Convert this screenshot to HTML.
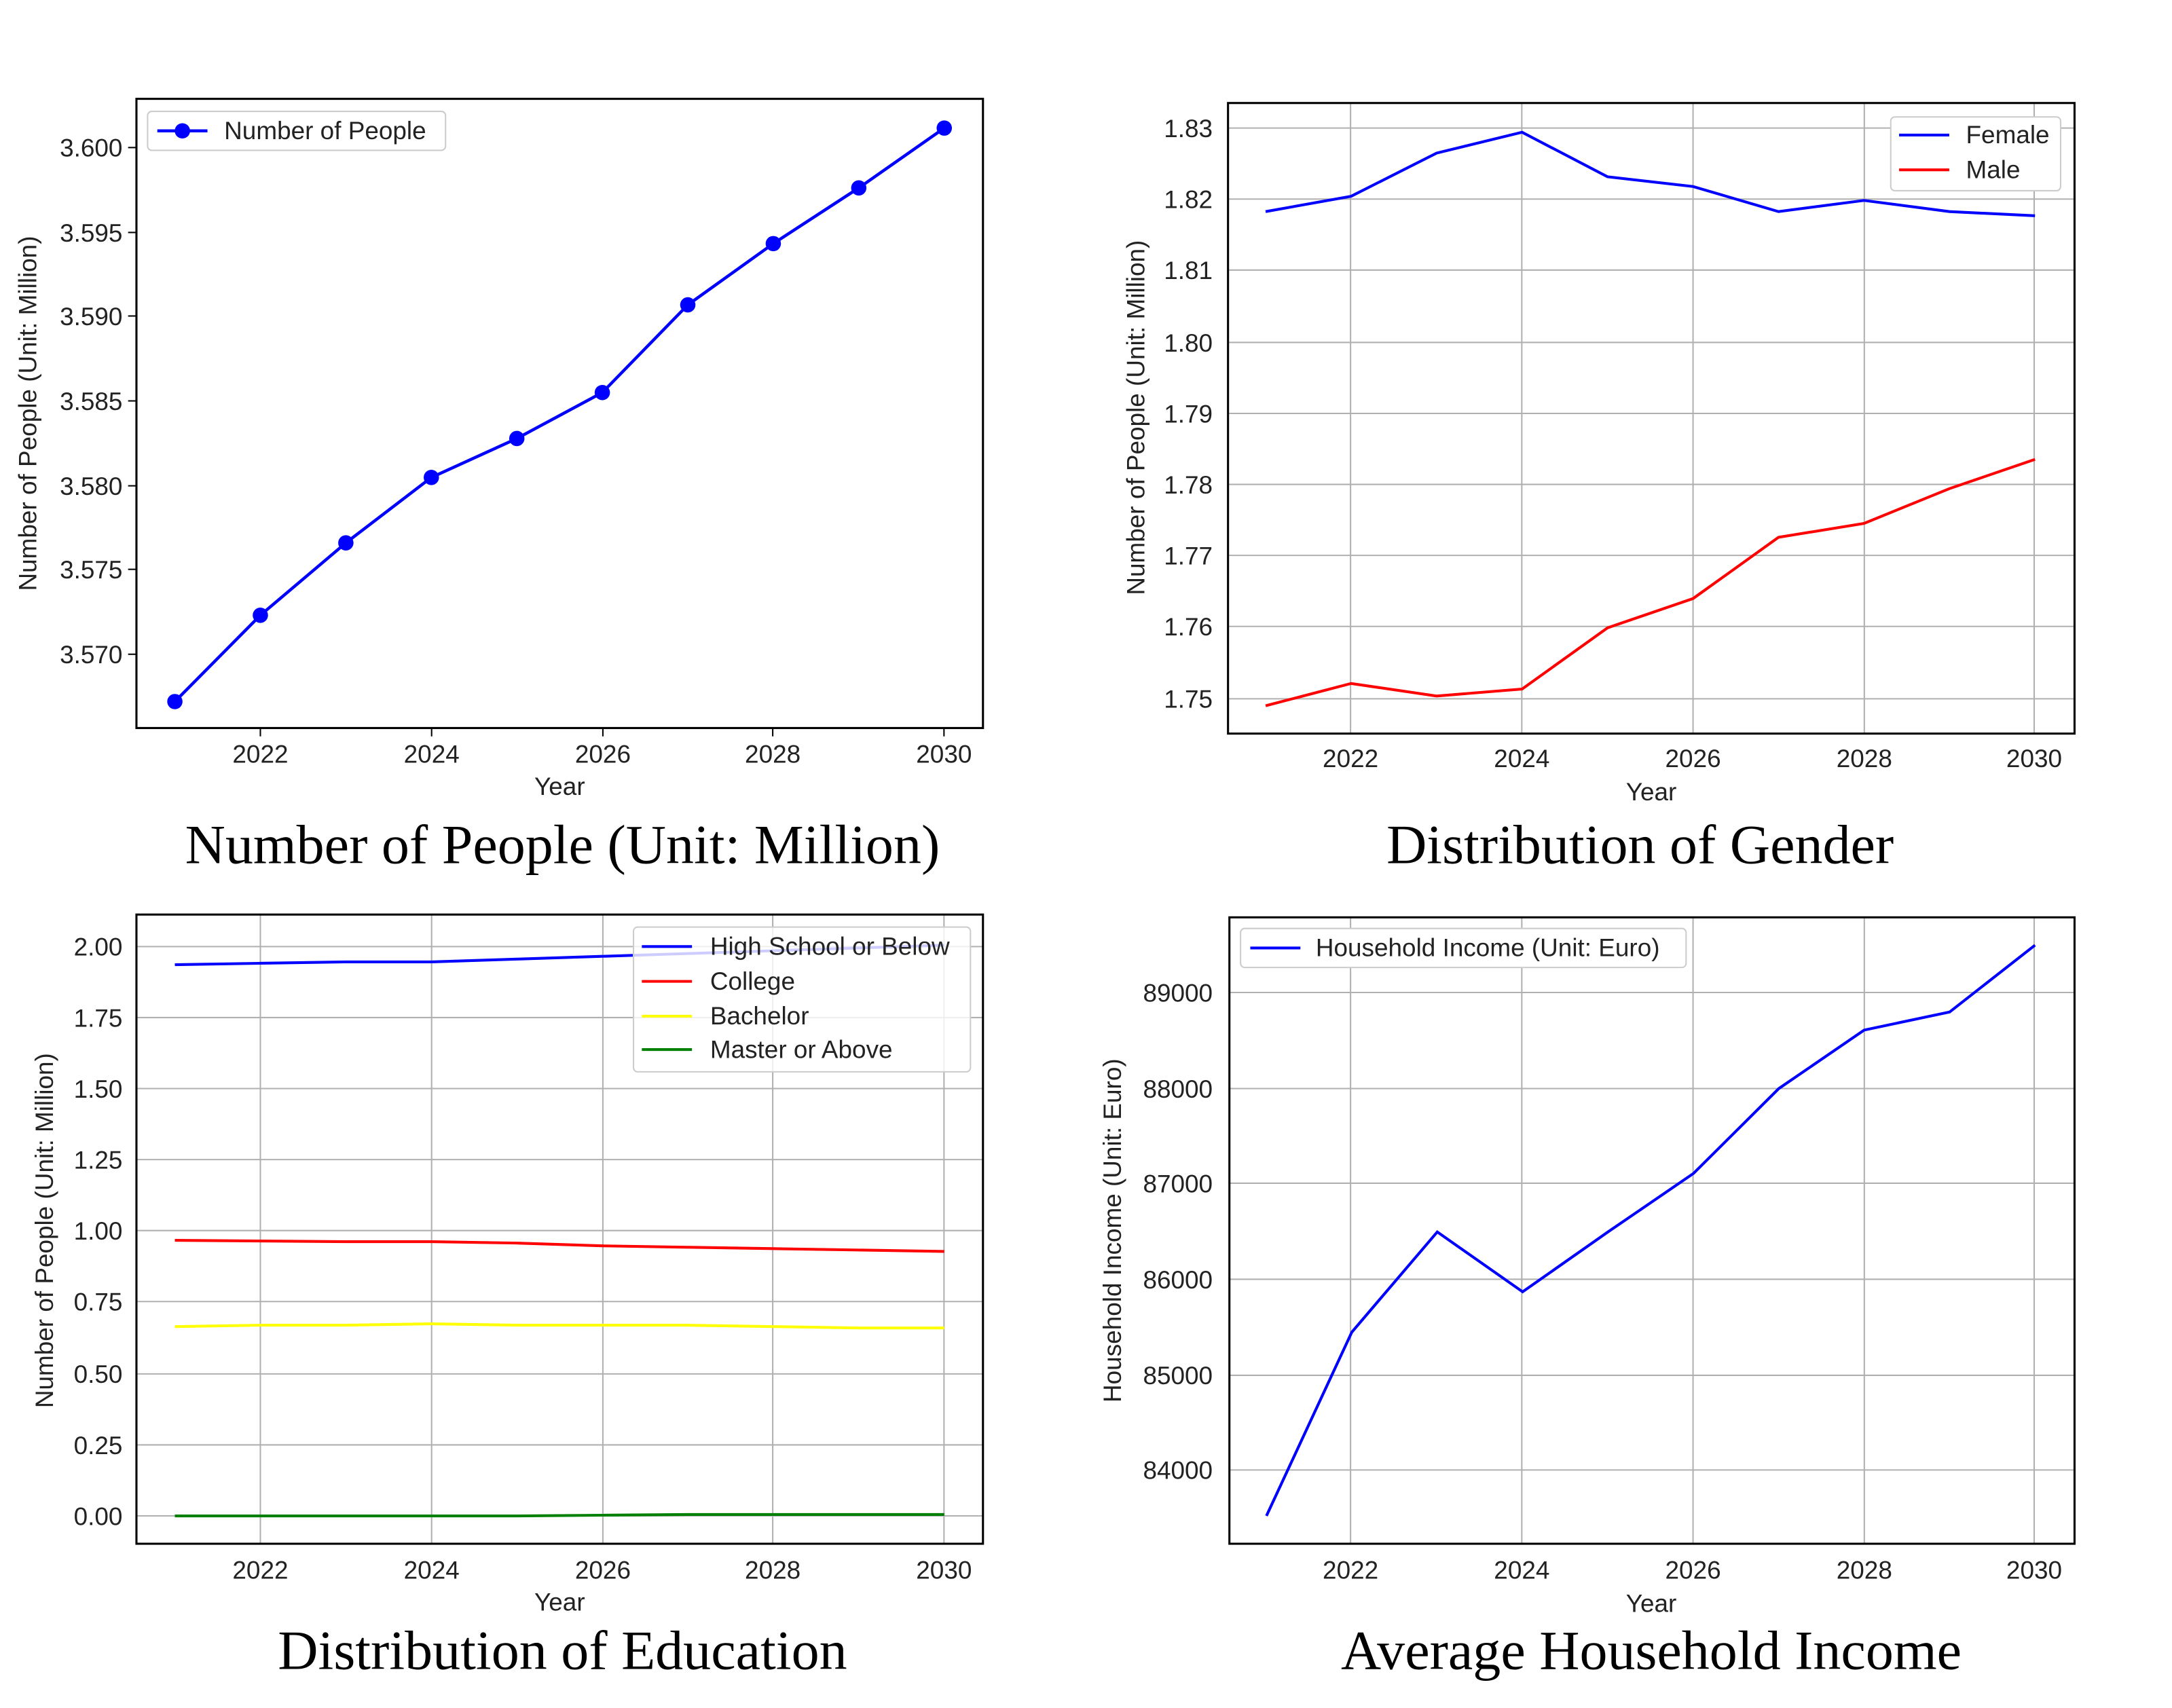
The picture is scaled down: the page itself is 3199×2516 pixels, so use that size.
<!DOCTYPE html>
<html><head><meta charset="utf-8"><style>html,body{margin:0;padding:0;background:#fff}svg{display:block}</style></head><body>
<svg width="3199" height="2516" viewBox="0 0 1560 1227" preserveAspectRatio="none" xmlns="http://www.w3.org/2000/svg" font-family="Liberation Sans, DejaVu Sans, sans-serif">
<rect width="1560" height="1227" fill="#fff"/>
<g font-size="18" fill="#222">
<!-- Panel 1 -->
<g text-anchor="end">
<text x="88" y="112.5">3.600</text><text x="88" y="173.5">3.595</text><text x="88" y="233.5">3.590</text><text x="88" y="294.5">3.585</text><text x="88" y="355.5">3.580</text><text x="88" y="415.5">3.575</text><text x="88" y="476.5">3.570</text>
</g>
<g stroke="#000" stroke-width="1"><line x1="92" y1="106" x2="98" y2="106"/><line x1="92" y1="167" x2="98" y2="167"/><line x1="92" y1="227" x2="98" y2="227"/><line x1="92" y1="288" x2="98" y2="288"/><line x1="92" y1="349" x2="98" y2="349"/><line x1="92" y1="409" x2="98" y2="409"/><line x1="92" y1="470" x2="98" y2="470"/>
<line x1="187" y1="523" x2="187" y2="529"/><line x1="310" y1="523" x2="310" y2="529"/><line x1="433" y1="523" x2="433" y2="529"/><line x1="555" y1="523" x2="555" y2="529"/><line x1="678" y1="523" x2="678" y2="529"/></g>
<g text-anchor="middle"><text x="187" y="548">2022</text><text x="310" y="548">2024</text><text x="433" y="548">2026</text><text x="555" y="548">2028</text><text x="678" y="548">2030</text><text x="402" y="571">Year</text></g>
<text transform="translate(26,297) rotate(-90)" text-anchor="middle">Number of People (Unit: Million)</text>
<polyline fill="none" stroke="#0000ff" stroke-width="2.2" points="125.6,504 187,442 248.4,390 309.8,343 371.2,315 432.6,282 494,219 555.4,175 616.8,135 678.2,92"/>
<g fill="#0000ff"><circle cx="125.6" cy="504" r="5.5"/><circle cx="187" cy="442" r="5.5"/><circle cx="248.4" cy="390" r="5.5"/><circle cx="309.8" cy="343" r="5.5"/><circle cx="371.2" cy="315" r="5.5"/><circle cx="432.6" cy="282" r="5.5"/><circle cx="494" cy="219" r="5.5"/><circle cx="555.4" cy="175" r="5.5"/><circle cx="616.8" cy="135" r="5.5"/><circle cx="678.2" cy="92" r="5.5"/></g>
<rect x="98" y="71" width="608" height="452" fill="none" stroke="#000" stroke-width="1.5"/>
<rect x="106" y="80" width="214" height="28" rx="3" fill="#fff" stroke="#ccc"/>
<line x1="113" y1="94" x2="149" y2="94" stroke="#0000ff" stroke-width="2.2"/><circle cx="131" cy="94" r="5.5" fill="#0000ff"/>
<text x="161" y="100">Number of People</text>

<!-- Panel 2 -->
<g stroke="#b0b0b0" stroke-width="1"><line x1="882" y1="92" x2="1490" y2="92"/><line x1="882" y1="143" x2="1490" y2="143"/><line x1="882" y1="194" x2="1490" y2="194"/><line x1="882" y1="246" x2="1490" y2="246"/><line x1="882" y1="297" x2="1490" y2="297"/><line x1="882" y1="348" x2="1490" y2="348"/><line x1="882" y1="399" x2="1490" y2="399"/><line x1="882" y1="450" x2="1490" y2="450"/><line x1="882" y1="502" x2="1490" y2="502"/>
<line x1="970" y1="74" x2="970" y2="527"/><line x1="1093" y1="74" x2="1093" y2="527"/><line x1="1216" y1="74" x2="1216" y2="527"/><line x1="1339" y1="74" x2="1339" y2="527"/><line x1="1461" y1="74" x2="1461" y2="527"/></g>
<g text-anchor="end"><text x="871" y="98.5">1.83</text><text x="871" y="149.5">1.82</text><text x="871" y="200.5">1.81</text><text x="871" y="252.5">1.80</text><text x="871" y="303.5">1.79</text><text x="871" y="354.5">1.78</text><text x="871" y="405.5">1.77</text><text x="871" y="456.5">1.76</text><text x="871" y="508.5">1.75</text></g>
<g text-anchor="middle"><text x="970" y="551">2022</text><text x="1093" y="551">2024</text><text x="1216" y="551">2026</text><text x="1339" y="551">2028</text><text x="1461" y="551">2030</text><text x="1186" y="575">Year</text></g>
<text transform="translate(822,300) rotate(-90)" text-anchor="middle">Number of People (Unit: Million)</text>
<polyline fill="none" stroke="#0000ff" stroke-width="2" points="909,152 970.4,141 1031.8,110 1093.2,95 1154.6,127 1216,134 1277.4,152 1338.8,144 1400.2,152 1461.6,155"/>
<polyline fill="none" stroke="#ff0000" stroke-width="2" points="909,507 970.4,491 1031.8,500 1093.2,495 1154.6,451 1216,430 1277.4,386 1338.8,376 1400.2,351 1461.6,330"/>
<rect x="882" y="74" width="608" height="453" fill="none" stroke="#000" stroke-width="1.5"/>
<rect x="1358" y="84" width="122" height="53" rx="3" fill="#fff" stroke="#ccc"/>
<line x1="1364" y1="97" x2="1400" y2="97" stroke="#0000ff" stroke-width="2"/><text x="1412" y="103">Female</text>
<line x1="1364" y1="122" x2="1400" y2="122" stroke="#ff0000" stroke-width="2"/><text x="1412" y="128">Male</text>

<!-- Panel 3 -->
<g stroke="#b0b0b0" stroke-width="1"><line x1="98" y1="680" x2="706" y2="680"/><line x1="98" y1="731" x2="706" y2="731"/><line x1="98" y1="782" x2="706" y2="782"/><line x1="98" y1="833" x2="706" y2="833"/><line x1="98" y1="884" x2="706" y2="884"/><line x1="98" y1="935" x2="706" y2="935"/><line x1="98" y1="987" x2="706" y2="987"/><line x1="98" y1="1038" x2="706" y2="1038"/><line x1="98" y1="1089" x2="706" y2="1089"/>
<line x1="187" y1="657" x2="187" y2="1109"/><line x1="310" y1="657" x2="310" y2="1109"/><line x1="433" y1="657" x2="433" y2="1109"/><line x1="555" y1="657" x2="555" y2="1109"/><line x1="678" y1="657" x2="678" y2="1109"/></g>
<g text-anchor="end"><text x="88" y="686.5">2.00</text><text x="88" y="737.5">1.75</text><text x="88" y="788.5">1.50</text><text x="88" y="839.5">1.25</text><text x="88" y="890.5">1.00</text><text x="88" y="941.5">0.75</text><text x="88" y="993.5">0.50</text><text x="88" y="1044.5">0.25</text><text x="88" y="1095.5">0.00</text></g>
<g text-anchor="middle"><text x="187" y="1134">2022</text><text x="310" y="1134">2024</text><text x="433" y="1134">2026</text><text x="555" y="1134">2028</text><text x="678" y="1134">2030</text><text x="402" y="1157">Year</text></g>
<text transform="translate(38,884) rotate(-90)" text-anchor="middle">Number of People (Unit: Million)</text>
<polyline fill="none" stroke="#0000ff" stroke-width="2" points="125.6,693 187,692 248.4,691 309.8,691 371.2,689 432.6,687 494,685 555.4,683 616.8,681 678.2,679"/>
<polyline fill="none" stroke="#ff0000" stroke-width="2" points="125.6,891 187,891.5 248.4,892 309.8,892 371.2,893 432.6,895 494,896 555.4,897 616.8,898 678.2,899"/>
<polyline fill="none" stroke="#ffff00" stroke-width="2" points="125.6,953 187,952 248.4,952 309.8,951 371.2,952 432.6,952 494,952 555.4,953 616.8,954 678.2,954"/>
<polyline fill="none" stroke="#008000" stroke-width="2" points="125.6,1089 187,1089 248.4,1089 309.8,1089 371.2,1089 432.6,1088.5 494,1088 555.4,1088 616.8,1088 678.2,1088"/>
<rect x="98" y="657" width="608" height="452" fill="none" stroke="#000" stroke-width="1.5"/>
<rect x="455" y="666" width="242" height="104" rx="3" fill="#fff" fill-opacity="0.8" stroke="#ccc"/>
<line x1="461" y1="680" x2="497" y2="680" stroke="#0000ff" stroke-width="2"/><text x="510" y="686">High School or Below</text>
<line x1="461" y1="705" x2="497" y2="705" stroke="#ff0000" stroke-width="2"/><text x="510" y="711">College</text>
<line x1="461" y1="730" x2="497" y2="730" stroke="#ffff00" stroke-width="2"/><text x="510" y="736">Bachelor</text>
<line x1="461" y1="754" x2="497" y2="754" stroke="#008000" stroke-width="2"/><text x="510" y="760">Master or Above</text>

<!-- Panel 4 -->
<g stroke="#b0b0b0" stroke-width="1"><line x1="883" y1="713" x2="1490" y2="713"/><line x1="883" y1="782" x2="1490" y2="782"/><line x1="883" y1="850" x2="1490" y2="850"/><line x1="883" y1="919" x2="1490" y2="919"/><line x1="883" y1="988" x2="1490" y2="988"/><line x1="883" y1="1056" x2="1490" y2="1056"/>
<line x1="970" y1="659" x2="970" y2="1109"/><line x1="1093" y1="659" x2="1093" y2="1109"/><line x1="1216" y1="659" x2="1216" y2="1109"/><line x1="1339" y1="659" x2="1339" y2="1109"/><line x1="1461" y1="659" x2="1461" y2="1109"/></g>
<g text-anchor="end"><text x="871" y="719.5">89000</text><text x="871" y="788.5">88000</text><text x="871" y="856.5">87000</text><text x="871" y="925.5">86000</text><text x="871" y="994.5">85000</text><text x="871" y="1062.5">84000</text></g>
<g text-anchor="middle"><text x="970" y="1134">2022</text><text x="1093" y="1134">2024</text><text x="1216" y="1134">2026</text><text x="1339" y="1134">2028</text><text x="1461" y="1134">2030</text><text x="1186" y="1158">Year</text></g>
<text transform="translate(805,884) rotate(-90)" text-anchor="middle">Household Income (Unit: Euro)</text>
<polyline fill="none" stroke="#0000ff" stroke-width="2" points="909.6,1089 970.9,957 1032.3,885 1093.6,928 1154.9,885 1216.3,843 1277.6,782 1338.9,740 1400.3,727 1461.6,679"/>
<rect x="883" y="659" width="607" height="450" fill="none" stroke="#000" stroke-width="1.5"/>
<rect x="891" y="667" width="320" height="28" rx="3" fill="#fff" stroke="#ccc"/>
<line x1="898" y1="681" x2="934" y2="681" stroke="#0000ff" stroke-width="2"/><text x="945" y="687">Household Income (Unit: Euro)</text>
</g>
<g font-family="Liberation Serif, serif" font-size="40" fill="#000" text-anchor="middle">
<text x="404" y="620">Number of People (Unit: Million)</text>
<text x="1178" y="620">Distribution of Gender</text>
<text x="404" y="1199">Distribution of Education</text>
<text x="1186" y="1199">Average Household Income</text>
</g>
</svg>
</body></html>
